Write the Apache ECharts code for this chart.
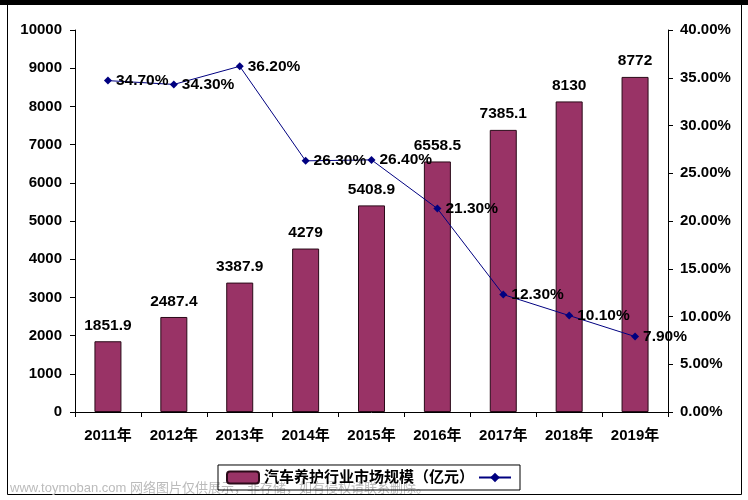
<!DOCTYPE html>
<html>
<head>
<meta charset="utf-8">
<script src="https://cdn.jsdelivr.net/npm/echarts@6/dist/echarts.min.js"></script>
<style>html,body{margin:0;padding:0;background:#fff}#c{width:748px;height:500px}</style>
</head>
<body>
<div id="c"></div>
<script>
var categories = ['2011年','2012年','2013年','2014年','2015年','2016年','2017年','2018年','2019年'];
var marketSize = [1851.9, 2487.4, 3387.9, 4279, 5408.9, 6558.5, 7385.1, 8130, 8772];
var growthRate = [34.70, 34.30, 36.20, 26.30, 26.40, 21.30, 12.30, 10.10, 7.90];
var barName = '汽车养护行业市场规模（亿元）';
var lineName = '增长率';

var chart = echarts.init(document.getElementById('c'));
var font = 'Arial, "Liberation Sans", "Noto Sans CJK SC", sans-serif';
chart.setOption({
  animation: false,
  textStyle: {fontFamily: font},
  grid: {left: 75, right: 80, top: 30, bottom: 88, containLabel: false},
  legend: {
    bottom: 10, left: 218,
    data: [barName, lineName],
    formatter: function (n) { return n === lineName ? '' : n; },
    borderColor: '#000', borderWidth: 1, borderRadius: 0,
    padding: [5, 8, 5, 8],
    itemGap: 4, itemWidth: 32, itemHeight: 12,
    textStyle: {fontSize: 15, fontWeight: 'bold', color: '#000', fontFamily: font}
  },
  xAxis: {
    type: 'category', data: categories,
    axisLine: {lineStyle: {color: '#000', width: 1}},
    axisTick: {show: true, inside: false, length: 5, lineStyle: {color: '#000'}},
    axisLabel: {color: '#000', fontSize: 15, fontWeight: 'bold', margin: 16, fontFamily: font}
  },
  yAxis: [{
    type: 'value', min: 0, max: 10000, interval: 1000,
    axisLine: {show: true, lineStyle: {color: '#000'}},
    axisTick: {show: true, length: 5, lineStyle: {color: '#000'}},
    splitLine: {show: false},
    axisLabel: {color: '#000', fontSize: 15, fontWeight: 'bold', margin: 13, fontFamily: font,
      formatter: function (v) { return String(v); }}
  }, {
    type: 'value', min: 0, max: 40, interval: 5, position: 'right',
    axisLine: {show: true, lineStyle: {color: '#000'}},
    axisTick: {show: true, length: 5, lineStyle: {color: '#000'}},
    splitLine: {show: false},
    axisLabel: {color: '#000', fontSize: 15, fontWeight: 'bold', margin: 12, fontFamily: font,
      formatter: function (v) { return v.toFixed(2) + '%'; }}
  }],
  series: [{
    name: barName, type: 'bar', data: marketSize, barWidth: 27,
    itemStyle: {color: '#993366', borderColor: '#2a0a18', borderWidth: 1},
    label: {show: true, position: 'top', distance: 8, color: '#000', fontSize: 15.5, fontWeight: 'bold', fontFamily: font}
  }, {
    name: lineName, type: 'line', yAxisIndex: 1, data: growthRate,
    symbol: 'diamond', symbolSize: 8,
    lineStyle: {color: '#000080', width: 1},
    itemStyle: {color: '#000080'},
    label: {show: true, position: 'right', distance: 4, color: '#000', fontSize: 15.5, fontWeight: 'bold', fontFamily: font,
      formatter: function (p) { return p.value.toFixed(2) + '%'; }},
    z: 5
  }],
  graphic: [
    {type: 'rect', shape: {x: 0, y: 0, width: 748, height: 5}, style: {fill: '#000'}},
    {type: 'rect', shape: {x: 7.5, y: 4.5, width: 734, height: 490}, style: {fill: 'none', stroke: '#000', lineWidth: 1}},
    {type: 'text', left: 10, top: 482, style: {text: 'www.toymoban.com 网络图片仅供展示，非存储，如有侵权请联系删除。', fill: '#bbb', fontSize: 13, fontFamily: font}}
  ]
});
</script>
</body>
</html>
